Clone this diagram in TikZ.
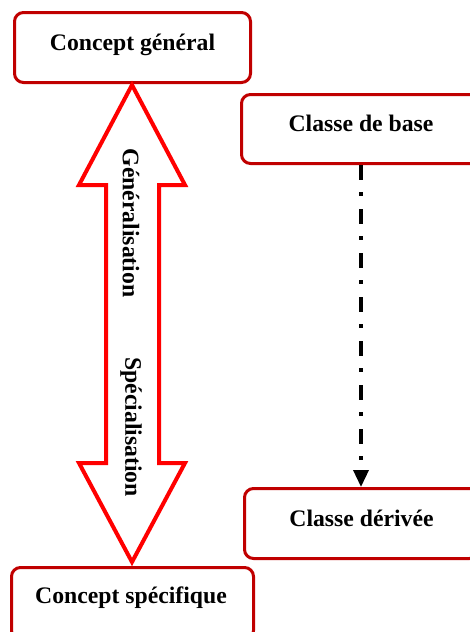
\documentclass[tikz,border=0pt]{standalone}
\usepackage{fontspec}
\setmainfont{Liberation Serif}
\usetikzlibrary{arrows.meta}
\definecolor{boxred}{HTML}{C00000}
\definecolor{arrowred}{HTML}{FF0000}
\begin{document}
\begin{tikzpicture}[x=1pt,y=-1pt,
  conceptbox/.style={draw=boxred, line width=3pt, rounded corners=9pt, fill=white,
    font=\fontsize{23.7}{28}\selectfont\bfseries, inner sep=0pt, anchor=north west,
    text height=16.5pt, text depth=11pt},
  label/.style={font=\fontsize{23.7}{28}\selectfont\bfseries, inner sep=0pt},
  inherit/.style={line width=3.5pt, line cap=butt,
    dash pattern=on 15pt off 12pt on 4pt off 13pt,
    -{Triangle[length=17pt,width=15pt,sep=0pt]}}]
\useasboundingbox (0,0) rectangle (469,632);
% boxes
\node[conceptbox, minimum width=236pt, minimum height=70pt] (gen) at (13,11) {Concept général};
\node[conceptbox, minimum width=239pt, minimum height=69pt] (base) at (240,93) {Classe de base};
\node[conceptbox, minimum width=234pt, minimum height=70pt] (der) at (243,487) {Classe dérivée};
\node[conceptbox, minimum width=242pt, minimum height=72pt] (spec) at (10,566) {};
\node[label] (spectext) at (131,598) {Concept spécifique};
% double arrow between the concept levels
\draw[arrowred, line width=4pt, miter limit=10, fill=white]
  (132,85) -- (185,185) -- (159,185) -- (159,463) -- (185,463) -- (132,562)
  -- (79,463) -- (106,463) -- (106,185) -- (79,185) -- cycle;
\node[label, rotate=-90] (genlab) at (131,223) {Généralisation};
\node[label, rotate=-90] (speclab) at (131,427) {Spécialisation};
% inheritance link
\draw[inherit] (base.south -| 361,0) -- (der.north -| 361,0);
\end{tikzpicture}
\end{document}
